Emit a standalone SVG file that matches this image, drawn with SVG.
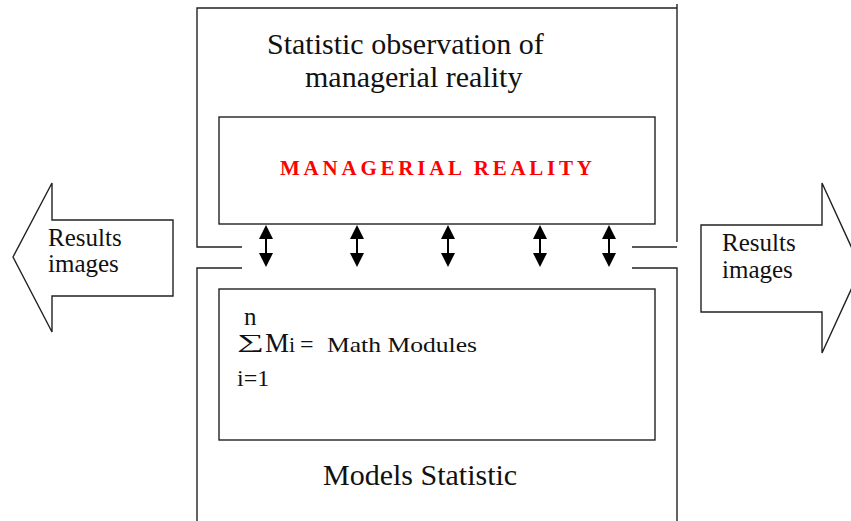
<svg xmlns="http://www.w3.org/2000/svg" width="851" height="521" viewBox="0 0 851 521">
<style>
.ln{fill:none;stroke:#222;stroke-width:1.4}
.box{fill:#fff;stroke:#222;stroke-width:1.4}
.t{font-family:"Liberation Serif","Times New Roman","DejaVu Serif",serif;fill:#111}
.red{font-family:"Liberation Serif","Times New Roman",serif;font-weight:bold;fill:#ff0000}
.shaft{stroke:#000;stroke-width:2}
.head{fill:#000}
</style>
<rect width="851" height="521" fill="#fff"/>
<g id="frame-top">
<polyline class="ln" points="242,247 197,247 197,8 677,8"/>
<line class="ln" x1="677" y1="4" x2="677" y2="242"/>
<line class="ln" x1="632" y1="247" x2="677" y2="247"/>
<text class="t" x="267" y="54" font-size="30">Statistic observation of</text>
<text class="t" x="305" y="87" font-size="30">managerial reality</text>
</g>
<g id="managerial-reality">
<rect class="box" x="219" y="117" width="436" height="107"/>
<text class="red" x="280" y="175" font-size="21" textLength="312" lengthAdjust="spacing">MANAGERIAL REALITY</text>
</g>
<g id="frame-bottom">
<polyline class="ln" points="242,268 197,268 197,521"/>
<polyline class="ln" points="632,268 677,268 677,521"/>
<text class="t" x="323" y="485" font-size="30">Models Statistic</text>
</g>
<g id="math-modules">
<rect class="box" x="219" y="289" width="436" height="151"/>
<text class="t" x="244" y="325" font-size="25">n</text>
<text class="t" transform="translate(237,348) scale(1.9,1)" x="0" y="0" font-size="20">∑</text>
<text class="t" x="265" y="352" font-size="27">M<tspan font-size="22">i</tspan></text>
<text class="t" x="300" y="352" font-size="24">=</text>
<text class="t" x="327" y="352" font-size="21" textLength="150" lengthAdjust="spacingAndGlyphs">Math Modules</text>
<text class="t" x="237" y="386" font-size="24">i=1</text>
</g>
<g id="results-left">
<polygon class="box" points="13,257 52,183 52,220 173,220 173,296 52,296 52,332"/>
<text class="t" x="48" y="246" font-size="25">Results</text>
<text class="t" x="48" y="272" font-size="25">images</text>
</g>
<g id="results-right">
<polygon class="box" points="701,225 822,225 822,183 861,268 822,353 822,312 701,312"/>
<text class="t" x="722" y="251" font-size="25">Results</text>
<text class="t" x="722" y="278" font-size="25">images</text>
</g>
<g id="connectors">
<g transform="translate(266,0)"><line class="shaft" x1="0" y1="238" x2="0" y2="254"/><polygon class="head" points="0,225 7,239 -7,239"/><polygon class="head" points="0,267 7,253 -7,253"/></g>
<g transform="translate(357,0)"><line class="shaft" x1="0" y1="238" x2="0" y2="254"/><polygon class="head" points="0,225 7,239 -7,239"/><polygon class="head" points="0,267 7,253 -7,253"/></g>
<g transform="translate(448,0)"><line class="shaft" x1="0" y1="238" x2="0" y2="254"/><polygon class="head" points="0,225 7,239 -7,239"/><polygon class="head" points="0,267 7,253 -7,253"/></g>
<g transform="translate(540,0)"><line class="shaft" x1="0" y1="238" x2="0" y2="254"/><polygon class="head" points="0,225 7,239 -7,239"/><polygon class="head" points="0,267 7,253 -7,253"/></g>
<g transform="translate(609,0)"><line class="shaft" x1="0" y1="238" x2="0" y2="254"/><polygon class="head" points="0,225 7,239 -7,239"/><polygon class="head" points="0,267 7,253 -7,253"/></g>
</g>
</svg>
